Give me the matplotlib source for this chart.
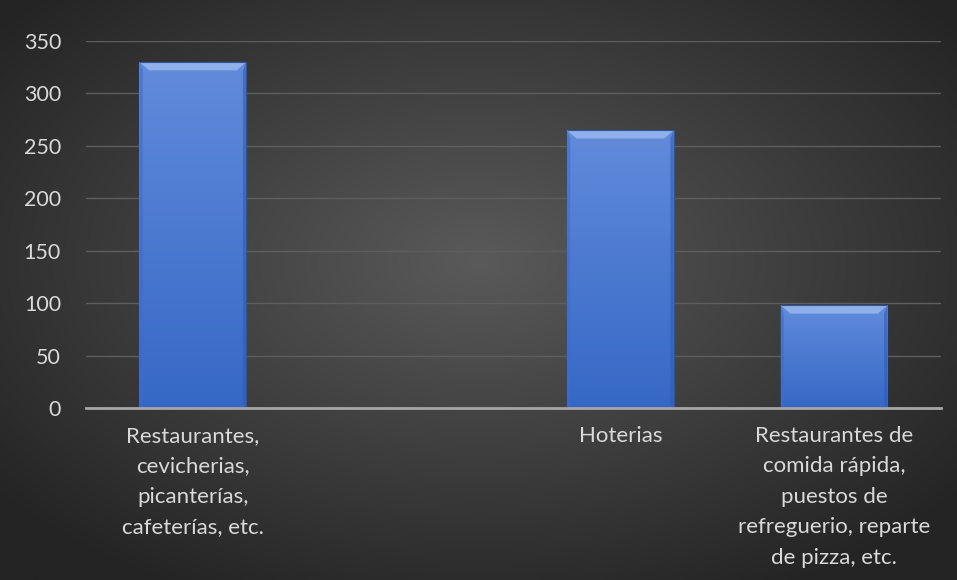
import numpy as np
import matplotlib
matplotlib.use("Agg")
import matplotlib.pyplot as plt
from matplotlib.patches import Polygon

categories = [
    "Restaurantes,\ncevicherias,\npicanterías,\ncafeterías, etc.",
    "",
    "Hoterias",
    "Restaurantes de\ncomida rápida,\npuestos de\nrefreguerio, reparte\nde pizza, etc.",
]
values = [330, 0, 265, 98]
yticks = [0, 50, 100, 150, 200, 250, 300, 350]

plt.rcParams['font.family'] = ['Lato', 'DejaVu Sans']

fig = plt.figure(figsize=(9.57, 5.80), dpi=100)

# radial gradient background
bg = fig.add_axes([0, 0, 1, 1], zorder=-10)
yy, xx = np.mgrid[-1:1:300j, -1:1:500j]
r = np.sqrt(xx ** 2 + (yy + 0.1) ** 2)
r = np.clip(r / 1.3, 0, 1)
c0 = np.array([0x5a, 0x5a, 0x5a]) / 255
c1 = np.array([0x24, 0x24, 0x24]) / 255
img = c0[None, None, :] * (1 - r[..., None]) + c1[None, None, :] * r[..., None]
bg.imshow(img, aspect='auto', extent=[0, 1, 0, 1], interpolation='bilinear')
bg.set_axis_off()

ax = fig.add_axes([0.0899, 0.2966, 0.8933, 0.6327])
ax.patch.set_alpha(0)
x = np.arange(len(categories))
width = 0.5
bars = ax.bar(x, values, width=width, color='#4a78d2', edgecolor='#2f5597',
              linewidth=0.8, zorder=3)

# gradient overlay & bevel for each bar
grad = np.linspace(0, 1, 256)[:, None]
top_c = np.array([0x62, 0x8b, 0xdb]) / 255
bot_c = np.array([0x35, 0x68, 0xc6]) / 255
gimg = top_c[None, None, :] * (1 - grad[..., None]) + bot_c[None, None, :] * grad[..., None]
gimg = np.repeat(gimg, 4, axis=1)
for b in bars:
    h = b.get_height()
    if h <= 0:
        continue
    x0 = b.get_x()
    w = b.get_width()
    im = ax.imshow(gimg, extent=[x0, x0 + w, 0, h], aspect='auto', zorder=3.5,
                   interpolation='bilinear')
    im.set_clip_path(b)
    dy = 8.0
    dx = w * 0.09
    ax.add_patch(Polygon([[x0, h], [x0 + w, h], [x0 + w - dx, h - dy], [x0 + dx, h - dy]],
                         closed=True, facecolor='#8fb0ea', edgecolor='none', zorder=4))
    ax.add_patch(Polygon([[x0, h], [x0 + dx * 0.35, h - dy], [x0 + dx * 0.35, 1.5], [x0, 0]],
                         closed=True, facecolor='#3f6dc6', edgecolor='none', zorder=4, alpha=0.6))
    ax.add_patch(Polygon([[x0 + w, h], [x0 + w - dx * 0.35, h - dy], [x0 + w - dx * 0.35, 1.5], [x0 + w, 0]],
                         closed=True, facecolor='#2f5cb4', edgecolor='none', zorder=4, alpha=0.6))
    ax.add_patch(plt.Rectangle((x0, h), w, 0, fill=False, edgecolor='#2f5597', lw=0.8, zorder=4.5))

ax.set_xlim(-0.5, len(categories) - 0.5)
ax.set_ylim(0, 350)
ax.set_yticks(yticks)
ax.set_yticklabels([str(t) for t in yticks])
ax.set_xticks(x)
ax.set_xticklabels(categories, linespacing=1.65)
ax.tick_params(axis='both', length=0, colors='#d9d9d9')
ax.tick_params(axis='x', pad=13, labelsize=16)
ax.tick_params(axis='y', pad=18, labelsize=15.5)
ax.grid(axis='y', color='#5e5e5e', linewidth=1.0, zorder=0)
ax.set_axisbelow(True)
for s in ['top', 'right', 'left']:
    ax.spines[s].set_visible(False)
ax.spines['bottom'].set_color('#a6a6a6')
ax.spines['bottom'].set_linewidth(2.0)
ax.spines['bottom'].set_zorder(5)

fig.savefig('out.png', dpi=100)
